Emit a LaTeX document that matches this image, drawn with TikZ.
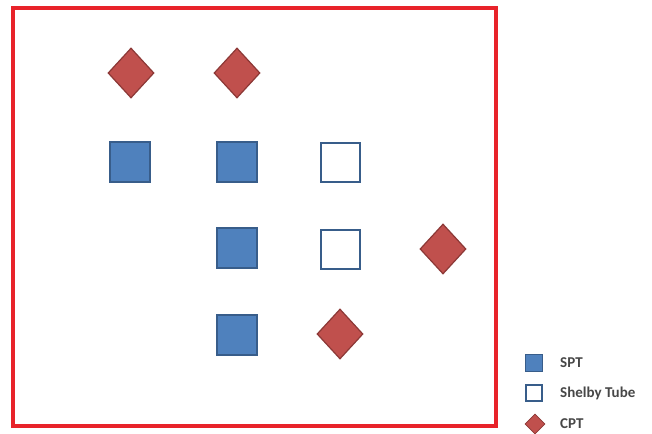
\documentclass[tikz,border=0pt]{standalone}
\usepackage{fontspec}
\setmainfont{Carlito}
\usetikzlibrary{shapes.geometric}
\definecolor{cptfill}{HTML}{C0504D}
\definecolor{cptdraw}{HTML}{8C3836}
\definecolor{sptfill}{HTML}{4F81BD}
\definecolor{sptdraw}{HTML}{385D8A}
\definecolor{frame}{HTML}{E8232A}
\tikzset{
  cpt/.style={shape=diamond, fill=cptfill, draw=cptdraw, line width=1.2pt, inner sep=0pt, minimum width=46pt, minimum height=50pt},
  spt/.style={shape=rectangle, fill=sptfill, draw=sptdraw, line width=1.5pt, inner sep=0pt, minimum size=40pt},
  shelby/.style={shape=rectangle, fill=white, draw=sptdraw, line width=2pt, inner sep=0pt, minimum size=39pt},
  lcpt/.style={cpt, minimum width=20pt, minimum height=20pt, line width=0.8pt},
  lspt/.style={spt, minimum size=17pt, line width=1pt},
  lshelby/.style={shelby, minimum size=16pt, line width=1.5pt},
  ltext/.style={anchor=west, font=\fontsize{15}{17}\selectfont\bfseries, text=black!72, inner sep=0pt}
}
\begin{document}
\begin{tikzpicture}[x=1pt,y=-1pt]
\useasboundingbox (0,0) rectangle (652,433);
\fill[white] (0,0) rectangle (652,433);
\node[draw=frame, line width=4pt, minimum width=483pt, minimum height=418pt, inner sep=0pt] (frm) at (254.5,217) {};
% row 1
\node[cpt] (c1) at (131,73) {};
\node[cpt] (c2) at (237,73) {};
% row 2
\node[spt] (s1) at (130,162) {};
\node[spt] (s2) at (237,162) {};
\node[shelby] (h1) at (340,162) {};
% row 3
\node[spt] (s3) at (237,248) {};
\node[shelby] (h2) at (340,249) {};
\node[cpt] (c3) at (443,249) {};
% row 4
\node[spt] (s4) at (237,335) {};
\node[cpt] (c4) at (340,334) {};
% legend
\node[lspt] (ls) at (534,363) {};
\node[ltext] (lst) at (560,363) {SPT};
\node[lshelby] (lh) at (534,393) {};
\node[ltext] (lht) at (560,393) {Shelby Tube};
\node[lcpt] (lc) at (535,424) {};
\node[ltext] (lct) at (560,424) {CPT};
\end{tikzpicture}
\end{document}
